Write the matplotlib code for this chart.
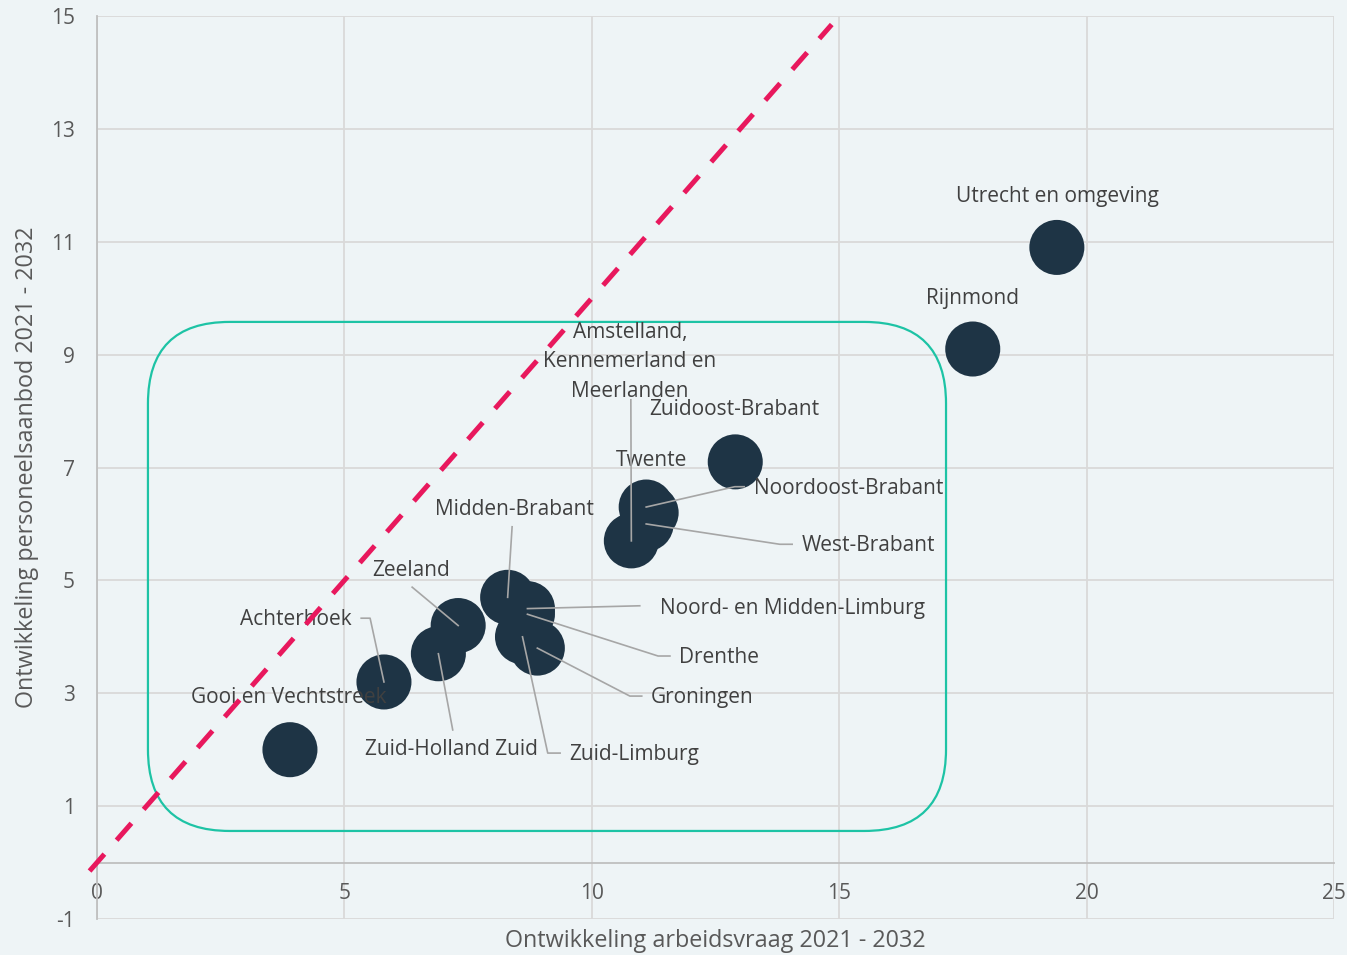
import matplotlib
matplotlib.use("Agg")
import matplotlib.pyplot as plt
from matplotlib.patches import FancyBboxPatch

# ---- data ----
regions = ["Utrecht en omgeving", "Rijnmond", "Amstelland,\nKennemerland en\nMeerlanden",
           "Zuidoost-Brabant", "Twente", "Noordoost-Brabant", "West-Brabant",
           "Midden-Brabant", "Zeeland", "Noord- en Midden-Limburg", "Achterhoek",
           "Drenthe", "Groningen", "Gooi en Vechtstreek", "Zuid-Holland Zuid", "Zuid-Limburg"]
arbeidsvraag = [19.4, 17.7, 10.8, 12.9, 11.2, 11.1, 11.1, 8.3, 7.3, 8.7, 5.8, 8.7, 8.9, 3.9, 6.9, 8.6]
aanbod = [10.9, 9.1, 5.7, 7.1, 6.2, 6.3, 6.0, 4.7, 4.2, 4.5, 3.2, 4.4, 3.8, 2.0, 3.7, 4.0]
x_ticks = [0, 5, 10, 15, 20, 25]
y_ticks = [-1, 1, 3, 5, 7, 9, 11, 13, 15]
diag = [-0.15, 14.85]

# label layout: (text x, text y, ha, leader-line path before reaching the point)
label_layout = {
    "Utrecht en omgeving": (19.42, 11.81, "center", None),
    "Rijnmond": (17.70, 10.0, "center", None),
    "Amstelland,\nKennemerland en\nMeerlanden": (10.77, 8.87, "center", [(10.79, 8.20)]),
    "Zuidoost-Brabant": (12.89, 8.02, "center", None),
    "Twente": (11.20, 7.12, "center", None),
    "Noordoost-Brabant": (13.28, 6.62, "left", [(13.08, 6.66), (12.89, 6.66)]),
    "West-Brabant": (14.25, 5.61, "left", [(14.05, 5.64), (13.80, 5.64)]),
    "Midden-Brabant": (8.43, 6.25, "center", [(8.39, 5.95)]),
    "Zeeland": (6.35, 5.18, "center", [(6.37, 4.88)]),
    "Noord- en Midden-Limburg": (11.38, 4.51, "left", [(10.97, 4.55)]),
    "Achterhoek": (4.02, 4.30, "center", [(5.34, 4.33), (5.52, 4.33)]),
    "Drenthe": (11.76, 3.64, "left", [(11.58, 3.66), (11.34, 3.66)]),
    "Groningen": (11.20, 2.93, "left", [(11.01, 2.95), (10.77, 2.95)]),
    "Gooi en Vechtstreek": (3.88, 2.92, "center", None),
    "Zuid-Holland Zuid": (7.17, 2.0, "center", [(7.19, 2.35)]),
    "Zuid-Limburg": (9.54, 1.91, "left", [(9.36, 1.94), (9.11, 1.94)]),
}

BG = "#EEF4F6"
FONT = "Open Sans"
plt.rcParams["font.family"] = [FONT, "DejaVu Sans"]
plt.rcParams["axes.unicode_minus"] = False

fig = plt.figure(figsize=(13.47, 9.55), dpi=100, facecolor=BG)
ax = fig.add_axes([0.0720, 0.0377, 0.9183, 0.9455])
ax.set_facecolor(BG)
ax.set_xlim(0, 25)
ax.set_ylim(-1, 15)
ax.set_xticks(x_ticks)
ax.set_yticks(y_ticks)
ax.grid(True, color="#D9D9D9", linewidth=1.3, zorder=0)
ax.set_axisbelow(True)
for s in ["top", "right"]:
    ax.spines[s].set_visible(False)
ax.spines["bottom"].set_position(("data", 0))
ax.spines["bottom"].set_color("#BFBFBF")
ax.spines["left"].set_color("#BFBFBF")
ax.spines["bottom"].set_linewidth(1.3)
ax.spines["left"].set_linewidth(1.3)
ax.tick_params(axis="both", length=0, labelsize=15, labelcolor="#595959")
ax.tick_params(axis="y", pad=16)
ax.tick_params(axis="x", pad=15)
ax.set_xlabel("Ontwikkeling arbeidsvraag 2021 - 2032", fontsize=16.8, color="#595959")
ax.set_ylabel("Ontwikkeling personeelsaanbod 2021 - 2032", fontsize=16.8, color="#595959")
ax.xaxis.set_label_coords(0.5, -0.024)
ax.xaxis.label.set_va("center")
ax.yaxis.set_label_coords(-0.0565, 0.5)
ax.yaxis.label.set_va("center")

# rounded rectangle
pxx, pxy = 49.48, 56.44
box = FancyBboxPatch((1.03, 0.56), 17.16 - 1.03, 9.58 - 0.56,
                     boxstyle="round,pad=0,rounding_size=1.65",
                     mutation_aspect=pxx / pxy,
                     facecolor="none", edgecolor="#1DC3A5", linewidth=1.6, zorder=2)
ax.add_patch(box)

# markers
ax.scatter(arbeidsvraag, aanbod, s=1570, color="#1E3445", edgecolors="none", zorder=3, clip_on=False)

# labels and leader lines
for name, xv, yv in zip(regions, arbeidsvraag, aanbod):
    tx, ty, ha, path = label_layout[name]
    ax.text(tx, ty, name, ha=ha, va="center", fontsize=15, color="#404040",
            zorder=4, linespacing=1.54)
    if path:
        xs = [p[0] for p in path] + [xv]
        ys = [p[1] for p in path] + [yv]
        ax.plot(xs, ys, color="#A6A6A6", linewidth=1.2, zorder=5)

# diagonal dashed line
ax.plot(diag, diag, color="#E8185D", linewidth=3.6, dashes=(4.5, 3.7),
        dash_capstyle="butt", zorder=6, clip_on=False)

fig.savefig("out.png", dpi=100, facecolor=BG)
